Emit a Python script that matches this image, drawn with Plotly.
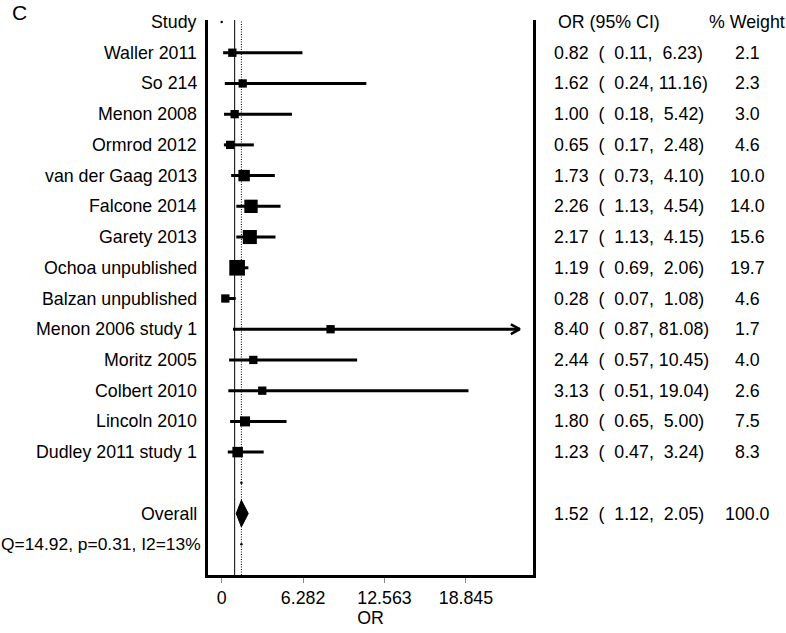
import numpy as np
import plotly.graph_objects as go

# ---------------- data ----------------
studies = ["Waller 2011", "So 214", "Menon 2008", "Ormrod 2012", "van der Gaag 2013",
           "Falcone 2014", "Garety 2013", "Ochoa unpublished", "Balzan unpublished",
           "Menon 2006 study 1", "Moritz 2005", "Colbert 2010", "Lincoln 2010",
           "Dudley 2011 study 1"]
or_vals = [0.82, 1.62, 1.00, 0.65, 1.73, 2.26, 2.17, 1.19, 0.28, 8.40, 2.44, 3.13, 1.80, 1.23]
ci_low = [0.11, 0.24, 0.18, 0.17, 0.73, 1.13, 1.13, 0.69, 0.07, 0.87, 0.57, 0.51, 0.65, 0.47]
ci_high = [6.23, 11.16, 5.42, 2.48, 4.10, 4.54, 4.15, 2.06, 1.08, 81.08, 10.45, 19.04, 5.00, 3.24]
weights = [2.1, 2.3, 3.0, 4.6, 10.0, 14.0, 15.6, 19.7, 4.6, 1.7, 4.0, 2.6, 7.5, 8.3]

overall_label = "Overall"
overall_or = 1.52
overall_low = 1.12
overall_high = 2.05
overall_weight = 100.0
het_text = "Q=14.92, p=0.31, I2=13%"

tick_vals = [0, 6.282, 12.563, 18.845]
tick_text = ["0", "6.282", "12.563", "18.845"]
null_value = 1

# ---------------- layout constants ----------------
FONT = "Liberation Sans, Arial, Helvetica, sans-serif"
FS = 17.8
x_range = [-1.057, 24.02]
x_clip = 23.0
n = len(studies)
rows = list(range(1, n + 1))
blank_row = n + 1
overall_row = n + 2
het_row = n + 3
y_range = [18.0, -0.065]
NB = "\u00a0"

fig = go.Figure()

# CI lines (clipped)
xs, ys = [], []
for r, lo, hi in zip(rows, ci_low, ci_high):
    xs += [lo, min(hi, x_clip), None]
    ys += [r, r, None]
fig.add_trace(go.Scatter(x=xs, y=ys, mode="lines", line=dict(color="black", width=3),
                         hoverinfo="skip", showlegend=False))

# arrows for clipped CIs
for r, hi in zip(rows, ci_high):
    if hi > x_clip:
        fig.add_trace(go.Scatter(x=[x_clip - 0.69, x_clip, x_clip - 0.69],
                                 y=[r - 0.16, r, r + 0.16], mode="lines",
                                 line=dict(color="black", width=2.5),
                                 hoverinfo="skip", showlegend=False))

# squares
sizes = np.maximum(8.3, 3.3 * np.sqrt(np.array(weights)) + 1)
fig.add_trace(go.Scatter(x=or_vals, y=rows, mode="markers",
                         marker=dict(symbol="square", size=sizes, color="black",
                                     opacity=1, line=dict(width=0)),
                         showlegend=False))

# overall diamond
h = 0.435
fig.add_trace(go.Scatter(x=[overall_low, overall_or, overall_high, overall_or, overall_low],
                         y=[overall_row, overall_row - h, overall_row, overall_row + h, overall_row],
                         mode="lines", fill="toself", fillcolor="black",
                         line=dict(color="black", width=1), showlegend=False))

# tiny dots (artifacts in reference)
fig.add_trace(go.Scatter(x=[0, overall_or, overall_or], y=[0, blank_row, het_row],
                         mode="markers", marker=dict(size=2.5, color="black", opacity=1),
                         showlegend=False, hoverinfo="skip"))

# vertical reference lines
fig.add_shape(type="line", x0=null_value, x1=null_value, y0=0, y1=1, yref="paper",
              line=dict(color="black", width=1))
fig.add_shape(type="line", x0=overall_or, x1=overall_or, y0=0, y1=1, yref="paper",
              line=dict(color="black", width=1, dash="1px,1.5px"))

ann = []
def left_label(text, row, shift=-9, size=FS):
    ann.append(dict(text=text, xref="paper", x=0, xshift=shift, xanchor="right",
                    yref="y", y=row, yanchor="middle", showarrow=False,
                    font=dict(family=FONT, size=size, color="black")))

def right_label(text, row, shift, anchor):
    ann.append(dict(text=text, xref="paper", x=1, xshift=shift, xanchor=anchor,
                    yref="y", y=row, yanchor="middle", showarrow=False,
                    font=dict(family=FONT, size=FS, color="black")))

left_label("Study", 0)
for r, s in zip(rows, studies):
    left_label(s, r)
left_label(overall_label, overall_row)
left_label(het_text, het_row, shift=-5, size=17.4)

def fmt_ci(o, lo, hi):
    s = f"{o:.2f}  ( {lo:5.2f}, {hi:5.2f})"
    return s.replace(" ", NB)

right_label("OR (95% CI)", 0, 23, "left")
right_label("% Weight", 0, 214, "center")
for r, o, lo, hi, w in zip(rows, or_vals, ci_low, ci_high, weights):
    right_label(fmt_ci(o, lo, hi), r, 19, "left")
    right_label(f"{w:.1f}", r, 214, "center")
right_label(fmt_ci(overall_or, overall_low, overall_high), overall_row, 19, "left")
right_label(f"{overall_weight:.1f}", overall_row, 214, "center")

# panel letter
ann.append(dict(text="C", xref="paper", x=0, xshift=-198, xanchor="left",
                yref="paper", y=1, yshift=8, yanchor="middle", showarrow=False,
                font=dict(family=FONT, size=21, color="black")))

fig.update_layout(
    width=786, height=633,
    margin=dict(l=208, r=253, t=20, b=53),
    paper_bgcolor="white", plot_bgcolor="white",
    showlegend=False,
    annotations=ann,
    font=dict(family=FONT, size=FS, color="black"),
    xaxis=dict(range=x_range, tickvals=tick_vals, ticktext=tick_text,
               showline=True, linecolor="black", linewidth=2.5, mirror=False,
               ticks="outside", ticklen=5, tickcolor="#888888", tickwidth=1,
               showgrid=False, zeroline=False,
               tickfont=dict(family=FONT, size=FS, color="black"),
               title=dict(text="OR", standoff=0,
                          font=dict(family=FONT, size=FS, color="black"))),
    yaxis=dict(range=y_range, showline=True, linecolor="black", linewidth=2.5,
               mirror=True, showticklabels=False, ticks="", showgrid=False,
               zeroline=False),
)

fig.write_html("out.html", config={"displayModeBar": False},
               post_script="document.body.style.margin='0';document.body.style.overflow='hidden';")
